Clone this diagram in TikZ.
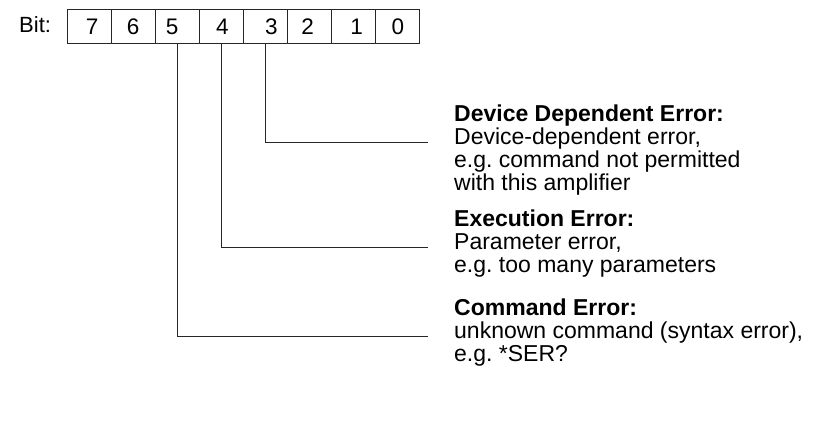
\documentclass[tikz,border=0pt]{standalone}
\usepackage{fontspec}
\setmainfont{Liberation Sans}
\frenchspacing
\begin{document}
\begin{tikzpicture}[x=1pt,y=-1pt,
  line/.style={draw=black!85,line width=0.9pt},
  cell/.style={line,minimum width=44.1pt,minimum height=34pt,inner sep=0pt,outer sep=0pt},
  digit/.style={inner sep=0pt,anchor=base,font=\fontsize{22.5}{24}\selectfont},
  desc/.style={inner sep=0pt,anchor=base west,align=left,font=\fontsize{23}{23}\selectfont},
  lead/.style={line}]
\useasboundingbox (0,0) rectangle (826,421);

% register label
\node[inner sep=0pt,anchor=base west,font=\fontsize{22}{24}\selectfont] (bitlbl) at (19,32) {Bit:};

% the eight bit cells, bit 7 on the left
\foreach \b [count=\i from 0] in {7,6,5,4,3,2,1,0}
  \node[cell] (b\b) at ({67+44.1*\i+22.05},26) {};

% bit numbers, set slightly off centre as printed
\node[digit] (d7) at ([xshift=3pt]b7.center |- 0,34) {7};
\node[digit] (d6) at ([xshift=0pt]b6.center |- 0,34) {6};
\node[digit] (d5) at ([xshift=-5pt]b5.center |- 0,34) {5};
\node[digit] (d4) at ([xshift=1pt]b4.center |- 0,34) {4};
\node[digit] (d3) at ([xshift=6pt]b3.center |- 0,34) {3};
\node[digit] (d2) at ([xshift=-2pt]b2.center |- 0,34) {2};
\node[digit] (d1) at ([xshift=3pt]b1.center |- 0,34) {1};
\node[digit] (d0) at ([xshift=0pt]b0.center |- 0,34) {0};

% descriptions (anchored at the baseline of their last line)
\node[desc] (t3) at (454,190) {\textbf{Device Dependent Error:}\\Device-dependent error,\\e.g. command not permitted\\with this amplifier};
\node[desc] (t4) at (454,272) {\textbf{Execution Error:}\\Parameter error,\\e.g. too many parameters};
\node[desc] (t5) at (454,361) {\textbf{Command Error:}\\unknown command (syntax error),\\e.g. *SER?};

% leader line ends
\coordinate (e3) at (428,142);
\coordinate (e4) at (428,247);
\coordinate (e5) at (428,336);

\draw[lead] (b3.south) |- (e3);
\draw[lead] (b4.south) |- (e4);
\draw[lead] (b5.south) |- (e5);
\end{tikzpicture}
\end{document}
